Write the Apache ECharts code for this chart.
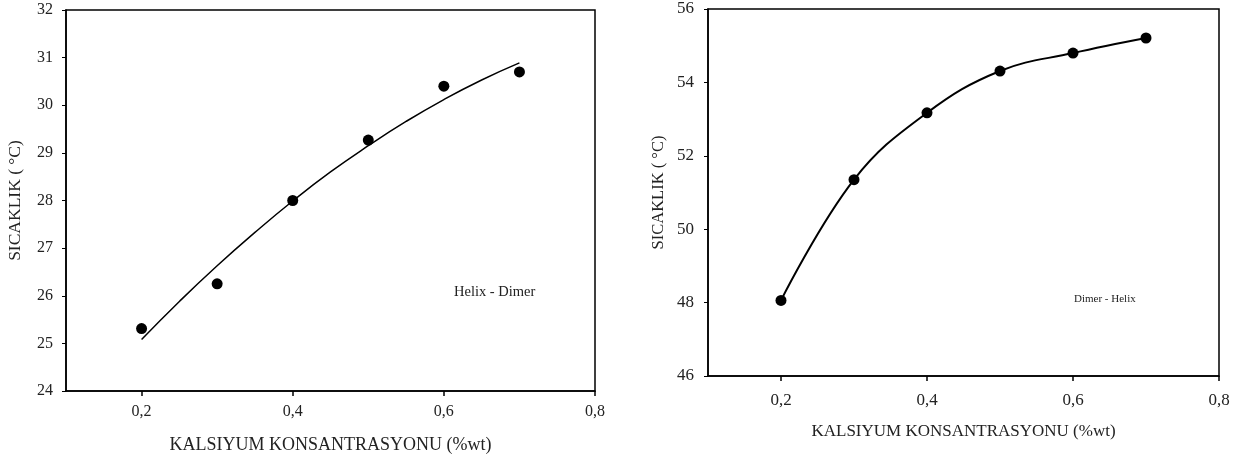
<!DOCTYPE html>
<html>
<head>
<meta charset="utf-8">
<script src="https://cdn.jsdelivr.net/npm/echarts@6/dist/echarts.min.js"></script>
<style>
html,body{margin:0;padding:0;background:#fff;}
#c{width:1246px;height:463px;}
</style>
</head>
<body>
<div id="c"></div>
<script>
// ---- data ----
const concentration = [0.2, 0.3, 0.4, 0.5, 0.6, 0.7];
const helixDimerTemp = [25.31, 26.25, 28.0, 29.27, 30.4, 30.7];
const fitX = [0.2, 0.25, 0.3, 0.35, 0.4, 0.45, 0.5, 0.55, 0.6, 0.65, 0.7];
const helixDimerFit = [25.08, 25.88, 26.63, 27.33, 27.99, 28.6, 29.15, 29.66, 30.12, 30.53, 30.89];
const dimerHelixTemp = [48.06, 51.35, 53.17, 54.31, 54.8, 55.21];
const xTicks = [0.2, 0.4, 0.6, 0.8];
const xTitle = 'KALSIYUM KONSANTRASYONU (%wt)';
const yTitle = 'SICAKLIK ( °C)';
const leftLabel = 'Helix - Dimer';
const rightLabel = 'Dimer - Helix';

const pairs = (xs, ys) => xs.map((x, i) => [x, ys[i]]);
const font = 'Liberation Serif';
const txt = '#222';

function xAxis(gridIndex, fs, margin, nfs, gap) {
  return {
    type: 'value', gridIndex, min: 0.1, max: 0.8,
    axisLine: {lineStyle: {color: '#000', width: 1.5}},
    axisTick: {show: true, customValues: xTicks, length: 5, lineStyle: {color: '#000', width: 1.5}},
    axisLabel: {customValues: xTicks, color: txt, fontFamily: font, fontSize: fs, margin,
      formatter: v => v.toFixed(1).replace('.', ',')},
    splitLine: {show: false},
    name: xTitle, nameLocation: 'middle', nameGap: gap,
    nameTextStyle: {color: txt, fontFamily: font, fontSize: nfs}
  };
}
function yAxis(gridIndex, min, max, interval, fs, margin, nfs, gap) {
  return {
    type: 'value', gridIndex, min, max, interval,
    axisLine: {show: true, lineStyle: {color: '#000', width: 1.5}},
    axisTick: {show: true, length: 4, lineStyle: {color: '#000', width: 1}},
    axisLabel: {color: txt, fontFamily: font, fontSize: fs, margin},
    splitLine: {show: false},
    name: yTitle, nameLocation: 'middle', nameGap: gap,
    nameTextStyle: {color: txt, fontFamily: font, fontSize: nfs}
  };
}

const chart = echarts.init(document.getElementById('c'), null, {renderer: 'canvas'});
chart.setOption({
  animation: false,
  backgroundColor: '#fff',
  grid: [
    {left: 66, top: 10, width: 529, height: 381, show: true, borderColor: '#000', borderWidth: 1.5, backgroundColor: 'transparent'},
    {left: 708, top: 9, width: 511, height: 367, show: true, borderColor: '#000', borderWidth: 1.5, backgroundColor: 'transparent'}
  ],
  xAxis: [xAxis(0, 16, 13, 18, 45), xAxis(1, 17, 16, 17, 47)],
  yAxis: [yAxis(0, 24, 32, 1, 16, 13, 17.5, 42), yAxis(1, 46, 56, 2, 17, 14, 16.5, 41)],
  graphic: [
    {type: 'text', left: 454, top: 285, style: {text: leftLabel, fill: txt, font: '14.5px "Liberation Serif"'}},
    {type: 'text', left: 1074, top: 294, style: {text: rightLabel, fill: txt, font: '11px "Liberation Serif"'}}
  ],
  series: [
    {type: 'line', xAxisIndex: 0, yAxisIndex: 0, data: pairs(fitX, helixDimerFit), smooth: true,
      showSymbol: false, lineStyle: {color: '#000', width: 1.5}},
    {type: 'scatter', xAxisIndex: 0, yAxisIndex: 0, data: pairs(concentration, helixDimerTemp),
      symbolSize: 11, itemStyle: {color: '#000', opacity: 1}},
    {type: 'line', xAxisIndex: 1, yAxisIndex: 1, data: pairs(concentration, dimerHelixTemp), smooth: 0.4,
      symbol: 'circle', symbolSize: 11, itemStyle: {color: '#000', opacity: 1}, lineStyle: {color: '#000', width: 2}}
  ]
});
</script>
</body>
</html>
